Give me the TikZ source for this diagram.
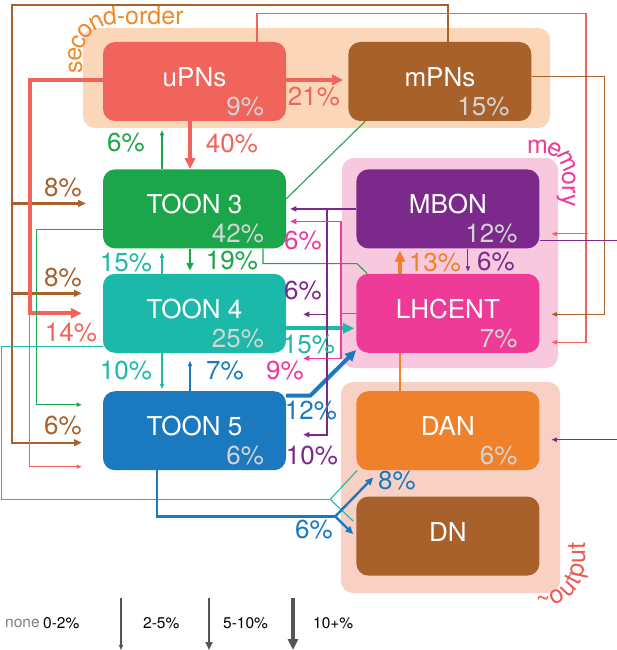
\documentclass[tikz,border=0pt]{standalone}
\usepackage{fontspec}
\setmainfont{TeX Gyre Heros}
\usetikzlibrary{positioning, arrows.meta, calc, decorations.text}

\definecolor{upn}{RGB}{241,100,91}
\definecolor{mpn}{RGB}{168,97,43}
\definecolor{tthree}{RGB}{27,166,76}
\definecolor{tfour}{RGB}{28,185,170}
\definecolor{tfive}{RGB}{27,121,191}
\definecolor{mbn}{RGB}{123,42,139}
\definecolor{lhc}{RGB}{238,59,151}
\definecolor{dan}{RGB}{239,129,42}
\definecolor{sobg}{RGB}{251,214,184}
\definecolor{mebg}{RGB}{248,200,222}
\definecolor{oubg}{RGB}{249,208,196}
\definecolor{pctgray}{RGB}{212,212,212}
\definecolor{lgd}{RGB}{85,85,85}
\definecolor{orlbl}{RGB}{240,137,45}
\definecolor{oulbl}{RGB}{238,90,80}

\newcommand{\bigfont}{\fontsize{26}{26}\selectfont}
\newcommand{\grpfont}{\fontsize{25}{25}\selectfont}
\newcommand{\keyfont}{\fontsize{15.5}{15.5}\selectfont}

\begin{document}
\begin{tikzpicture}[x=1pt, y=-1pt, >={Triangle[length=3pt 2, width=2pt 2]},
    box/.style={rounded corners=12pt, minimum width=183pt, minimum height=79pt, text=white, font=\bigfont, text height=19pt, text depth=9pt},
    pct/.style={font=\bigfont, inner sep=0pt},
    inpct/.style={font=\bigfont, text=pctgray, inner sep=0pt, anchor=south east, xshift=-22pt, yshift=5pt},
    w1/.style={line width=1.1pt},
    w2/.style={line width=2.4pt},
    w3/.style={line width=4pt}]
    \useasboundingbox (0,0) rectangle (617,650);

    % groups
    \fill[sobg, rounded corners=12pt] (83,28) rectangle (550,128);
    \fill[mebg, rounded corners=12pt] (342,158) rectangle (558,368);
    \fill[oubg, rounded corners=12pt] (341,382) rectangle (560,593);
    \begin{scope}[y=1pt]
    \path[decorate, decoration={text along path, raise=-6.5pt, text color=orlbl, text={|\grpfont|second-order}}]
        (75.5,-74) -- (75.5,-56.5) arc[start angle=180, end angle=90, radius=38] -- (300,-18.5);
    \path[decorate, decoration={text along path, raise=-6.5pt, text color=lhc, text={|\grpfont|memory}}]
        (527,-147) -- (543.5,-147) arc[start angle=90, end angle=0, radius=25] -- (568.5,-280);
    \path[decorate, decoration={text along path, raise=-6.5pt, text color=oulbl, text={|\grpfont|{\textasciitilde}output}}]
        (536,-600.5) -- (540.5,-600.5) arc[start angle=270, end angle=360, radius=38] -- (578.5,-480);
    \end{scope}

    % neurons
    \node[box, fill=upn, label={[inpct]south east:9\%}] (uPNs) at (194.5,81.5) {uPNs};
    \node[box, fill=mpn, right=62pt of uPNs, label={[inpct]south east:15\%}] (mPNs) {mPNs};
    \node[box, fill=tthree, below=48pt of uPNs, label={[inpct]south east:42\%}] (TOON3) {TOON 3};
    \node[box, fill=tfour, below=25pt of TOON3, label={[inpct]south east:25\%}] (TOON4) {TOON 4};
    \node[box, fill=tfive, below=38pt of TOON4, label={[inpct]south east:6\%}] (TOON5) {TOON 5};
    \node[box, fill=mbn, right=70pt of TOON3, label={[inpct]south east:12\%}] (MBON) {MBON};
    \node[box, fill=lhc, below=25pt of MBON, label={[inpct]south east:7\%}] (LHCENT) {LHCENT};
    \node[box, fill=dan, below=38pt of LHCENT, label={[inpct]south east:6\%}] (DAN) {DAN};
    \node[box, fill=mpn, below=26pt of DAN] (DN) {DN};

    % free ends
    \coordinate (m3) at ($(TOON3.west)+(-17,-5.5)$);
    \coordinate (m4) at ($(TOON4.west)+(-21,-20)$);
    \coordinate (u4) at ($(TOON4.west)+(-21,0)$);
    \coordinate (g5) at ($(TOON5.west)+(-21,-26)$);
    \coordinate (m5) at ($(TOON5.west)+(-21,12)$);
    \coordinate (u5) at ($(TOON5.west)+(-21,36)$);
    \coordinate (s1) at ($(MBON.east)+(12,25)$);
    \coordinate (s2) at ($(LHCENT.east)+(12,29)$);
    \coordinate (b2) at ($(LHCENT.east)+(12,1)$);
    \coordinate (p3) at ($(DAN.east)+(12,9)$);
    \coordinate (pu4) at ($(TOON4.east)+(17,1)$);
    \coordinate (pu5) at ($(TOON5.east)+(17,4)$);
    \coordinate (pk4) at ($(TOON4.east)+(17,45)$);
    \coordinate (tj) at ($(DAN.south west)+(-26,29)$);
    \coordinate (bj) at ($(DAN.south west)+(-21,46)$);

    % second-order inputs
    \draw[mpn, w2, ->] ([xshift=8pt]mPNs.north) -- ++(0,-37) -- ++(-436,0) |- (m5);
    \draw[mpn, w2, <-] (m3) -- ++(-74,0);
    \draw[mpn, w2, <-] (m4) -- ++(-70,0);
    \draw[upn, w3, ->] ([yshift=1.5pt]uPNs.west) -- ++(-73,0) |- (u4);
    \draw[upn, w1, <-] (u5) -- ++(-52,0) -- ++(0,-153);
    \draw[upn, w1, ->] ([xshift=62.5pt]uPNs.north) -- ++(0,-28) -- ++(329,0) |- (s2);
    \draw[upn, w1, <-] (s1) -- ++(36,0);
    \draw[mpn, w1, ->] ([yshift=5pt]mPNs.east) -- ++(73,0) |- (b2);
    \draw[upn, w3, ->, shorten >=5pt] ([yshift=1.5pt]uPNs.east) -- ([yshift=1.5pt]mPNs.west);
    \draw[upn, w3, ->] ([xshift=-4.5pt]uPNs.south) -- ([xshift=-4.5pt]TOON3.north);

    % TOON 3
    \draw[tthree, w1, ->, shorten >=9pt] ([xshift=-32.5pt]TOON3.north) -- ([xshift=-32.5pt]uPNs.south);
    \draw[tthree, w1] ([yshift=10pt]TOON3.east) -- ([xshift=17pt]mPNs.south west);
    \draw[tthree, w2, ->, shorten >=3pt] ([xshift=-4.5pt]TOON3.south) -- ([xshift=-4.5pt]TOON4.north);
    \draw[tthree, w1] ([xshift=68.5pt]TOON3.south) -- ++(0,15) -- ++(94,0) -- ([xshift=11pt]LHCENT.north west);
    \draw[tthree, w1, ->] ([yshift=-20.5pt]TOON3.west) -- ++(-66,0) |- (g5);

    % TOON 4 and TOON 5
    \draw[tfour, w1, ->, shorten >=4pt] ([xshift=-32.5pt]TOON4.north) -- ([xshift=-32.5pt]TOON3.south);
    \draw[tfour, w3, ->, shorten >=2pt] ([yshift=-15pt]TOON4.east) -- ([yshift=-15pt]LHCENT.west);
    \draw[tfour, w1] ([yshift=-33pt]TOON4.west) -- ++(-101,0) |- (tj);
    \draw[tfour, w1] (tj) -- ([xshift=1pt]DAN.south west);
    \draw[tfour, w1] (tj) -- ($(DN.west)+(-3,-15)$);
    \draw[tfour, w1, ->, shorten >=2pt] ([xshift=-32.5pt]TOON4.south) -- ([xshift=-32.5pt]TOON5.north);
    \draw[tfive, w1, ->, shorten >=8pt] ([xshift=-4.5pt]TOON5.north) -- ([xshift=-4.5pt]TOON4.south);
    \draw[tfive, w3, ->] ([yshift=35pt]TOON5.east) -- ++(24,0) -- ([yshift=3pt]LHCENT.south west);
    \draw[tfive, w2] ([xshift=-37.5pt]TOON5.south) |- (bj);
    \draw[tfive, w2, ->] (bj) -- ($(DAN.south west)+(17,7)$);
    \draw[tfive, w2, ->] (bj) -- ($(DN.west)+(-3,-2)$);

    % memory
    \draw[mbn, line width=1.6pt, ->, shorten >=4pt] (MBON.west) -- (MBON.west -| TOON3.east);
    \draw[mbn, line width=1.6pt, ->] ([xshift=-29pt]MBON.west) |- (pu5);
    \draw[mbn, line width=1.6pt, <-] (pu4) -- ++(24,0);
    \draw[mbn, w1, ->, shorten >=2pt] ([xshift=20pt]MBON.south) -- ([xshift=20pt]LHCENT.north);
    \draw[mbn, w1, ->] ([yshift=-32pt]MBON.east) -- ++(78,0) |- (p3);
    \draw[lhc, line width=1.6pt, ->, shorten >=4pt] (LHCENT.west) -- ++(-15,0) |- ([yshift=-12.5pt]TOON3.east);
    \draw[lhc, line width=1.6pt, ->] ([xshift=-15pt]LHCENT.west) |- (pk4);
    \draw[dan, w2] ([xshift=-48pt]DAN.north) -- ([xshift=-48pt]LHCENT.south);
    \draw[dan, w3, ->, shorten >=2pt] ([xshift=-48pt]LHCENT.north) -- ([xshift=-48pt]MBON.south);

    % percentages
    \node[pct, text=upn] (l21) at (314,97) {21\%};
    \node[pct, text=upn] (l40) at (232,144) {40\%};
    \node[pct, text=tthree] (l6a) at (126,143) {6\%};
    \node[pct, text=mpn] (l8a) at (63,188) {8\%};
    \node[pct, text=mpn] (l8b) at (63,278) {8\%};
    \node[pct, text=upn] (l14) at (71,333) {14\%};
    \node[pct, text=mpn] (l6b) at (63,426) {6\%};
    \node[pct, text=tfour] (l15a) at (126,263) {15\%};
    \node[pct, text=tthree] (l19) at (232,261) {19\%};
    \node[pct, text=tfour] (l10a) at (126,371) {10\%};
    \node[pct, text=tfive] (l7) at (225,371) {7\%};
    \node[pct, text=lhc] (l6c) at (303,241) {6\%};
    \node[pct, text=mbn] (l6d) at (303,291) {6\%};
    \node[pct, text=tfour] (l15b) at (309,345) {15\%};
    \node[pct, text=lhc] (l9) at (285,371) {9\%};
    \node[pct, text=tfive] (l12) at (311,411) {12\%};
    \node[pct, text=mbn] (l10b) at (312,456) {10\%};
    \node[pct, text=dan] (l13) at (435,263) {13\%};
    \node[pct, text=mbn] (l6e) at (496,262) {6\%};
    \node[pct, text=tfive] (l8c) at (397,481) {8\%};
    \node[pct, text=tfive] (l6f) at (314,530) {6\%};

    % key
    \coordinate (k1) at (121,598);
    \coordinate (k2) at (209,598);
    \coordinate (k3) at (293,598);
    \draw[lgd, w1, ->] (k1) -- ++(0,52);
    \draw[lgd, w2, ->] (k2) -- ++(0,52);
    \draw[lgd, w3, ->] (k3) -- ++(0,52);
    \node[font=\keyfont, text=gray, anchor=west, inner sep=0pt] (knone) at (5,623) {none};
    \node[font=\keyfont, anchor=west, inner sep=0pt] (k02) at (43,623) {0-2\%};
    \node[font=\keyfont, anchor=west, inner sep=0pt] (k25) at (143,623) {2-5\%};
    \node[font=\keyfont, anchor=west, inner sep=0pt] (k510) at (223,623) {5-10\%};
    \node[font=\keyfont, anchor=west, inner sep=0pt] (k10) at (313,623) {10+\%};
\end{tikzpicture}
\end{document}
